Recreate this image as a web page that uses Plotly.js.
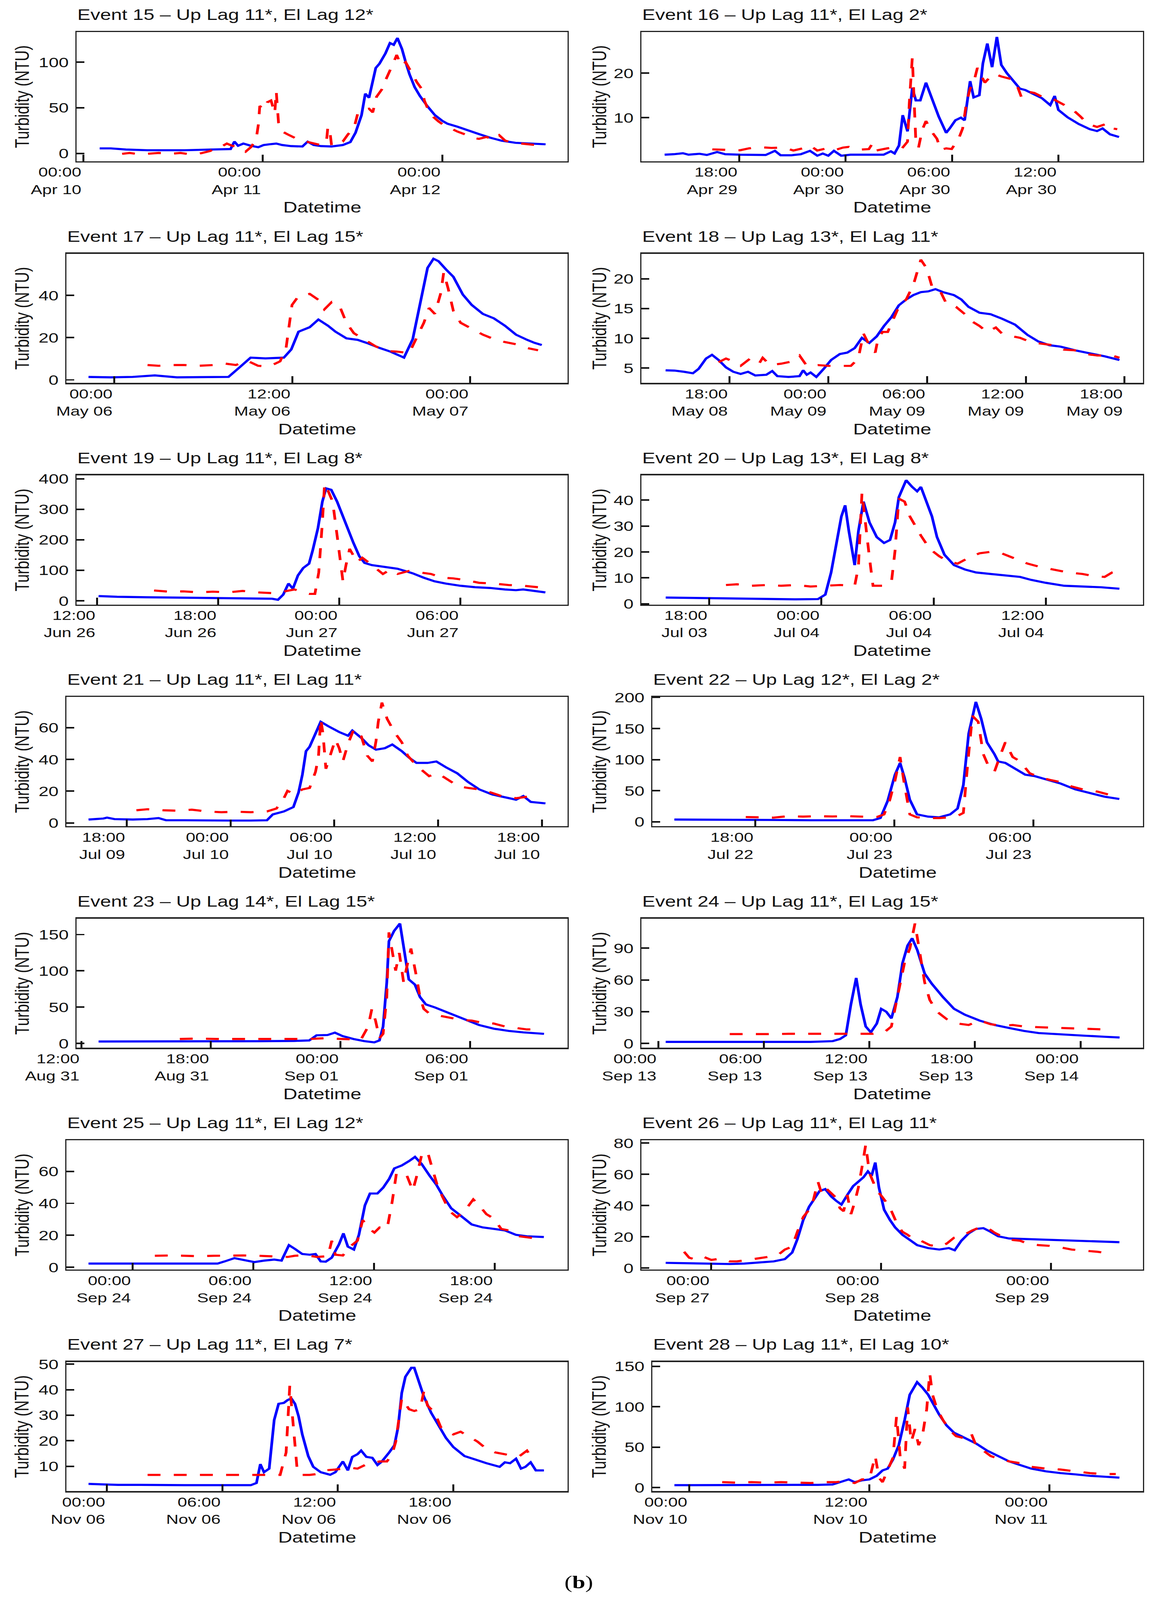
<!DOCTYPE html>
<html><head><meta charset="utf-8">
<script src="https://cdn.plot.ly/plotly-3.0.1.min.js"></script>
<style>html,body{margin:0;padding:0;background:#fff}#wrap{width:2944px;height:5291px;overflow:hidden}#wrap>div{display:block;width:2944px}</style>
</head><body><div id="wrap"></div>
<script>
// ---------------- DATA ----------------
const titles = [
 "Event 15 \u2013 Up Lag 11*, El Lag 12*","Event 16 \u2013 Up Lag 11*, El Lag 2*",
 "Event 17 \u2013 Up Lag 11*, El Lag 15*","Event 18 \u2013 Up Lag 13*, El Lag 11*",
 "Event 19 \u2013 Up Lag 11*, El Lag 8*","Event 20 \u2013 Up Lag 13*, El Lag 8*",
 "Event 21 \u2013 Up Lag 11*, El Lag 11*","Event 22 \u2013 Up Lag 12*, El Lag 2*",
 "Event 23 \u2013 Up Lag 14*, El Lag 15*","Event 24 \u2013 Up Lag 11*, El Lag 15*",
 "Event 25 \u2013 Up Lag 11*, El Lag 12*","Event 26 \u2013 Up Lag 11*, El Lag 11*",
 "Event 27 \u2013 Up Lag 11*, El Lag 7*","Event 28 \u2013 Up Lag 11*, El Lag 10*"];
// reference time of each event; series times are hours after it
const startTimes = ["2019-04-10 00:00","2019-04-29 18:00","2019-05-06 00:00","2019-05-08 18:00",
 "2019-06-26 12:00","2019-07-03 18:00","2019-07-09 18:00","2019-07-22 18:00",
 "2019-08-31 12:00","2019-09-13 00:00","2019-09-24 00:00","2019-09-27 00:00",
 "2019-11-06 00:00","2019-11-10 00:00"];
const xRangeHours = [[-0.89,64.74],[-5.52,22.77],[-3.23,30.56],[-5.36,25.12],[-1.02,23.31],[-3.62,23.19],
 [-3.50,25.49],[-4.44,16.73],[-0.22,22.51],[-0.96,27.55],[-3.30,21.63],[-9.87,60.99],[-2.11,23.94],[-2.45,30.22]];
const xTickStepHours = [24,6,12,6,6,6,6,6,6,6,6,24,6,12];
const yRanges = [[-8.5,133],[0.23,29.2],[-1.4,59.7],[2.52,24.22],[-12.1,411.1],[-0.28,49.57],[-2.04,79.26],
 [-7.1,200.7],[-6.1,171.9],[-4.2,117.9],[-1.38,79.4],[-0.94,81.7],[0.26,50.85],[-4.46,155.3]];
const yTickStep = [50,10,20,5,100,10,20,50,50,30,20,20,10,50];

const e15_blue_h=[2.2,3.7,5.7,8.6,13.5,16.5,18.5,19.7,20.2,20.7,21.4,22.4,23.4,24.1,24.9,25.8,26.6,27.8,29.3,30.0,30.8,31.8,33.2,34.7,35.7,36.4,37.2,37.7,38.2,38.6,39.1,39.6,40.4,41.0,41.5,42.0,42.6,43.1,43.6,44.3,45.0,46.0,47.0,48.0,48.7,50.0,51.4,52.9,54.4,55.9,57.8,59.8,61.8];
const e15_blue_v=[5.5,5.5,4.3,3.5,3.5,3.9,4.3,4.8,13,8.4,10.8,8.4,6.8,9.2,10,10.8,9.2,8,7.6,12.9,9.2,8,7.6,9.2,12.4,22.8,42,65.5,61,76,93.6,98.4,109.7,121,119,126.5,114.5,100,87,72.7,63,51.8,42,35.7,32.5,29.3,25.2,21.2,17.2,14,11.6,10.8,10];
const e15_red_h=[5.2,6.2,7.6,8.6,10.1,11.6,13.0,14.5,15.8,17.0,17.7,18.5,19.2,19.9,20.9,21.7,22.4,23.1,23.4,23.6,24.1,24.6,25.1,25.6,25.8,26.1,26.6,27.3,28.3,29.0,29.8,30.8,31.8,32.5,32.7,33.0,33.2,34.0,34.7,35.4,36.2,36.7,37.2,38.2,38.7,39.2,39.9,40.4,41.1,41.5,41.9,42.5,43.1,43.8,44.6,45.3,45.6,46.1,46.8,47.5,48.2,49.0,50.0,51.0,51.9,52.9,53.9,54.9,55.6,56.4,57.4,58.3,59.3,60.8,61.8];
const e15_red_v=[-0.5,0.5,-1,-0.5,0.5,-0.5,0.5,-1.3,0.3,2.7,6.8,7.6,10.8,8.4,6.8,1.9,6.8,14.8,31,52,48,56,58,44,68,34,24,21,17,16,13,11,9,12,29,22,8.5,12,13,21,28,44,47,49,45,62,70,80,92,100,108,96,100,90,78,70,58,48,40,35,31,28,24,21,17,16,18,15,20,14,12,11,10,9,10];

const e16_blue_h=[-4.21,-3.70,-3.18,-2.86,-2.24,-1.83,-1.25,-0.79,0.04,0.87,1.49,2.01,2.33,2.95,3.47,3.99,4.40,4.71,5.02,5.34,5.75,6.27,7.10,8.14,8.55,8.76,9.01,9.22,9.49,9.76,9.96,10.21,10.53,10.84,11.25,11.67,11.87,12.19,12.50,12.71,13.02,13.22,13.54,13.74,13.99,14.26,14.53,14.78,15.09,15.51,15.82,16.13,16.65,17.07,17.54,17.79,18.0,18.52,19.14,19.76,20.18,20.49,20.91,21.42];
const e16_blue_v=[1.69,1.79,2.02,1.69,1.89,1.62,2.28,1.79,1.69,1.69,1.62,2.55,1.56,1.56,1.79,2.55,1.46,1.95,1.46,2.55,1.46,1.69,1.69,1.69,2.45,1.95,3.77,10.56,6.92,16.69,13.87,13.87,17.85,14.54,10.23,6.59,7.58,9.40,10.0,9.40,18.18,14.54,15.03,22.15,26.62,21.32,28.11,21.82,20.0,18.01,16.52,16.19,15.2,14.37,12.81,14.87,11.72,10.07,8.58,7.42,6.99,7.58,6.26,5.66];
const e16_red_h=[-1.52,-0.79,0.04,0.56,0.87,1.29,1.81,2.53,3.05,3.57,3.99,4.40,5.02,5.44,5.85,6.17,6.68,7.31,7.52,7.72,8.35,8.76,9.18,9.49,9.59,9.76,9.84,9.96,10.11,10.32,10.53,10.84,11.15,11.36,11.67,11.98,12.39,12.60,12.81,13.02,13.22,13.43,13.64,13.85,14.12,14.37,14.78,15.30,15.61,15.92,16.23,16.65,17.07,17.69,18.31,18.83,19.25,19.66,20.18,20.80,21.01,21.32];
const e16_red_v=[2.88,2.78,2.68,3.11,3.28,3.34,3.21,3.28,2.62,3.11,3.77,2.62,3.21,2.78,3.28,3.44,2.78,2.95,4.27,2.62,3.11,3.28,3.11,4.60,13.21,23.48,14.87,4.60,3.28,7.25,9.24,6.92,5.26,2.78,3.11,2.95,5.43,7.58,13.21,16.52,17.85,21.16,19.50,17.85,19.0,19.83,19.24,18.68,17.85,14.54,15.86,15.53,14.70,14.21,12.88,11.72,10.23,8.58,7.91,8.74,7.58,7.42];

const e17_blue_h=[-1.74,-0.25,1.24,2.73,4.22,6.21,7.70,8.45,9.19,10.19,11.43,11.93,12.42,13.17,13.76,14.41,14.91,15.65,16.40,17.14,17.89,18.63,19.53,20.12,20.62,21.12,21.52,21.86,22.36,22.86,23.50,24.10,24.85,25.59,26.34,27.08,27.83,28.32,28.82];
const e17_blue_v=[1.40,1.19,1.40,2.11,1.19,1.19,1.40,5.96,10.53,10.18,10.53,14.39,22.81,24.91,28.56,25.61,22.81,19.65,18.95,17.19,15.09,13.33,10.53,19.30,36.84,52.98,57.33,56.14,52.28,48.77,40.35,35.44,31.23,29.12,25.61,21.40,18.95,17.54,16.49];
const e17_red_h=[2.24,2.98,3.98,4.72,5.71,6.71,7.45,8.20,8.94,9.69,10.43,11.18,11.58,11.98,12.42,13.17,13.76,14.16,14.66,15.16,15.65,16.15,16.89,17.64,18.39,19.13,19.88,20.37,20.87,21.22,21.61,22.01,22.21,22.51,22.86,23.35,24.10,24.85,25.59,26.34,27.08,27.83,28.57];
const e17_red_v=[7.02,6.67,7.02,7.02,6.67,7.02,7.72,7.02,9.12,6.67,6.32,8.77,15.09,35.44,39.65,40.70,37.89,33.33,36.84,35.44,27.02,22.11,18.95,15.79,13.68,13.33,12.63,20.0,27.02,34.04,31.23,41.05,50.88,43.16,32.63,27.02,24.21,21.40,19.30,17.89,16.84,15.09,14.04];

const e18_blue_h=[-3.89,-3.35,-2.77,-2.23,-1.88,-1.43,-1.07,-0.67,-0.22,0.22,0.67,1.12,1.56,2.23,2.59,2.90,3.58,4.25,4.47,4.69,4.92,5.27,5.72,6.17,6.70,7.15,7.60,8.04,8.49,8.94,9.38,9.83,10.28,10.73,11.17,11.62,12.07,12.51,12.96,13.63,14.08,14.52,15.19,15.86,16.54,17.34,18.10,18.77,19.44,20.11,21.00,21.90,22.79,23.69];
const e18_blue_v=[4.63,4.58,4.38,4.13,4.88,6.61,7.23,6.36,5.12,4.38,4.01,4.38,3.76,3.88,4.50,3.64,3.51,3.64,4.63,3.88,4.26,3.51,4.88,6.36,7.36,7.60,8.35,10.08,9.22,10.33,12.07,13.55,15.54,16.53,17.27,17.77,17.89,18.27,17.77,17.27,16.53,15.29,14.30,14.05,13.31,12.31,10.58,9.46,8.84,8.60,7.98,7.48,6.98,6.36];
const e18_red_h=[-0.67,-0.22,0.22,0.67,1.25,1.79,2.01,2.46,3.13,3.80,4.25,4.69,5.36,6.03,6.70,7.37,7.82,8.13,8.49,8.85,9.03,9.30,9.61,9.92,10.28,10.73,11.17,11.62,11.98,12.29,12.74,13.18,13.76,14.30,14.75,15.19,15.64,16.18,16.54,17.21,17.65,18.32,18.99,19.66,20.33,21.00,21.67,22.35,23.24,23.69];
const e18_red_v=[5.99,6.61,6.12,5.37,6.61,5.74,6.74,5.50,5.74,6.12,7.11,5.37,5.50,5.37,5.37,5.37,6.61,10.83,8.84,7.60,10.08,11.07,11.07,13.06,15.29,16.53,19.01,23.22,21.74,18.76,18.27,15.79,15.29,14.05,12.81,12.07,11.07,11.82,10.83,10.33,10.08,9.34,9.09,8.84,8.10,7.98,7.36,7.11,7.11,6.74];

const e19_blue_h=[0.07,0.99,2.45,4.28,6.11,7.57,8.67,8.96,9.22,9.48,9.70,9.95,10.21,10.50,10.68,10.94,11.16,11.34,11.60,11.89,12.15,12.40,12.70,12.99,13.25,13.61,14.16,14.89,15.26,15.62,16.17,16.72,17.27,18.00,18.73,19.47,20.20,20.75,21.11,21.66,22.21];
const e19_blue_v=[15.5,13.1,11.6,10.6,9.7,8.2,6.8,3.4,20.3,56.6,39.7,83.2,107.4,121.9,165.4,238.0,325.0,368.6,363.7,325.0,281.5,238.0,189.6,146.1,124.3,117.0,112.2,105.0,97.7,90.4,75.9,63.8,56.6,49.3,44.5,42.1,37.2,34.8,37.2,32.4,27.6];
const e19_red_h=[2.82,3.55,4.28,5.01,5.74,6.48,7.21,7.94,8.67,9.22,9.77,10.14,10.50,10.79,10.98,11.16,11.27,11.45,11.67,11.89,12.04,12.18,12.33,12.51,12.88,13.14,13.43,13.79,14.16,14.53,14.89,15.44,15.99,16.54,17.09,17.64,18.19,18.92,19.65,20.38,21.11,21.84];
const e19_red_v=[33.9,30.0,31.0,27.6,30.0,27.6,32.4,27.6,25.2,30.0,37.2,30.0,22.7,22.7,92.9,257.3,383.1,358.9,325.0,213.8,141.2,63.8,117.0,170.3,126.7,141.2,126.7,107.4,88.0,102.5,88.0,97.7,92.9,88.0,75.9,73.5,68.7,59.0,56.6,51.8,49.3,44.5];

const e20_blue_h=[-2.32,-1.26,-0.08,1.10,2.28,3.46,4.64,5.82,6.21,6.52,6.80,7.07,7.27,7.47,7.78,7.98,8.25,8.57,8.96,9.35,9.67,9.94,10.14,10.53,10.85,11.12,11.32,11.63,11.91,12.18,12.58,13.09,13.68,14.27,15.05,16.03,16.62,17.21,18.00,18.98,19.96,20.95,21.93];
const e20_blue_v=[2.39,2.28,2.11,1.94,1.82,1.71,1.71,1.82,3.53,12.08,23.48,33.73,38.01,28.03,14.93,28.03,39.43,31.45,25.75,23.48,24.62,31.45,41.14,47.69,45.13,43.42,45.13,39.43,33.73,25.75,18.92,14.93,13.22,12.08,11.51,10.94,10.37,9.23,8.09,6.95,6.67,6.38,5.81];
const e20_red_h=[0.90,1.49,2.28,3.07,3.85,4.64,5.42,6.21,7.00,7.78,7.98,8.17,8.37,8.57,8.76,9.35,9.75,9.94,10.14,10.45,10.73,11.00,11.32,11.79,12.30,12.69,13.28,13.87,14.46,15.05,15.64,16.23,17.02,17.61,18.39,19.18,19.96,20.55,21.14,21.54,21.93];
const e20_red_v=[7.24,7.52,6.95,7.24,6.95,7.24,6.67,6.95,7.24,6.95,14.36,42.85,29.17,17.78,6.95,6.95,8.66,20.63,40.57,39.43,33.73,30.31,26.32,21.20,18.35,16.64,15.50,17.78,19.49,20.06,19.49,17.78,15.50,14.36,13.22,12.08,11.51,10.66,10.37,12.08,12.65];

const e21_blue_h=[-2.22,-1.36,-1.15,-0.72,0.34,1.19,1.83,2.26,3.33,4.60,5.88,7.16,8.10,8.44,9.08,9.63,9.93,10.15,10.36,10.57,10.91,11.21,11.64,12.28,12.79,13.04,13.56,13.98,14.41,14.92,15.35,15.90,16.33,16.75,17.39,17.90,18.46,19.10,19.74,20.38,21.14,21.87,22.51,22.93,23.36,24.21];
const e21_blue_v=[2.13,2.78,3.33,2.41,2.13,2.41,3.06,1.67,1.67,1.48,1.48,1.48,1.67,5.37,7.22,10.0,19.26,30.37,45.19,47.96,56.30,63.70,60.93,57.22,54.91,58.15,53.52,48.89,46.11,47.04,49.35,45.19,41.02,37.78,37.78,38.70,35.0,31.30,25.74,21.11,17.87,16.02,14.63,16.94,13.24,12.31];
const e21_red_h=[0.55,1.19,2.05,2.90,3.75,4.60,5.46,6.31,7.16,8.10,8.65,9.08,9.29,9.72,10.15,10.57,10.91,11.08,11.21,11.34,11.51,11.77,12.06,12.28,12.49,12.79,13.13,13.56,13.90,14.20,14.41,14.54,14.75,15.05,15.47,15.90,16.24,16.54,16.97,17.48,17.90,18.25,18.76,19.18,19.74,20.38,21.02,21.66,22.51,23.15,23.79];
const e21_red_v=[7.96,8.61,7.96,7.69,8.33,7.22,6.76,7.04,6.76,7.22,9.07,15.56,20.19,17.87,21.11,22.04,32.22,41.48,65.56,56.30,34.07,42.41,52.59,47.04,38.70,49.81,59.07,54.44,42.41,38.70,51.67,63.70,75.74,65.56,57.22,50.74,42.41,38.70,34.07,29.44,31.30,29.44,25.74,22.96,22.04,21.11,19.26,16.94,15.56,16.48,15.09];

const e22_blue_h=[-3.49,-2.06,-0.79,0.79,2.38,3.97,5.08,5.40,5.71,6.03,6.25,6.44,6.67,6.98,7.46,7.94,8.41,8.73,8.98,9.21,9.52,9.75,10.0,10.32,10.48,10.79,11.21,11.65,12.06,12.54,13.17,13.81,14.44,15.08,15.71];
const e22_blue_v=[3.55,3.55,2.84,2.84,2.37,2.37,2.37,5.92,33.14,75.74,94.67,71.01,35.50,11.83,8.28,7.10,11.83,21.30,59.17,142.01,192.90,165.68,127.81,108.88,97.04,94.67,85.21,75.74,73.37,68.64,61.54,52.07,46.15,40.24,36.69];
const e22_red_h=[-0.41,0.16,0.79,1.43,2.06,2.70,3.33,3.97,4.60,5.24,5.56,5.81,6.03,6.25,6.44,6.67,6.98,7.46,7.94,8.41,8.73,8.98,9.17,9.37,9.62,9.84,10.06,10.32,10.57,10.79,11.11,11.43,11.84,12.22,12.70,13.17,13.65,14.13,14.76,15.24,15.71];
const e22_red_v=[7.57,7.10,6.63,8.99,8.28,8.99,8.52,8.99,8.28,7.57,11.83,35.50,66.27,104.14,59.17,11.83,7.10,5.92,5.92,7.10,9.47,14.20,94.67,170.41,160.95,108.88,89.94,80.47,106.51,127.81,104.14,97.04,78.11,72.19,67.46,63.91,56.80,52.07,48.52,43.79,40.24];

const e23_blue_h=[0.80,2.0,3.37,5.08,6.44,8.15,9.86,10.55,10.89,11.40,11.74,12.09,12.60,13.11,13.56,13.80,13.97,14.14,14.24,14.48,14.75,14.92,15.16,15.44,15.68,15.95,16.36,16.87,17.39,17.90,18.41,19.09,19.78,20.46,21.14,21.42];
const e23_blue_v=[2.64,2.64,3.04,3.04,3.04,3.04,3.45,4.05,11.15,11.55,14.80,10.14,6.08,3.04,1.42,4.05,23.31,84.13,140.89,155.08,165.21,134.81,88.18,81.09,63.86,53.72,49.67,43.58,37.50,31.42,25.34,20.27,17.23,15.20,13.58,13.18];
const e23_red_h=[4.56,5.42,6.27,7.13,7.98,8.84,9.69,10.55,11.23,11.91,12.43,12.94,13.28,13.45,13.62,13.80,13.97,14.14,14.24,14.38,14.55,14.72,14.92,15.06,15.26,15.50,15.68,15.85,16.09,16.36,16.70,17.04,17.56,18.07,18.58,19.09,19.61,20.12,20.63,20.97];
const e23_red_v=[6.08,6.69,6.08,6.08,5.47,6.08,5.47,6.08,7.10,6.08,5.47,5.07,23.31,47.64,31.42,7.10,13.18,63.86,153.05,130.75,100.34,124.67,84.13,104.40,130.75,94.26,63.86,47.64,41.56,39.53,37.50,35.48,32.43,31.42,28.38,27.37,23.31,21.29,19.26,19.26];

const e24_blue_h=[0.42,1.97,3.64,5.31,6.98,8.66,9.91,10.33,10.66,10.95,11.25,11.50,11.79,12.08,12.42,12.67,12.96,13.25,13.59,13.88,14.17,14.43,14.72,15.14,15.55,16.18,16.81,17.43,18.27,19.11,19.94,20.78,21.62,22.87,24.13,25.38,26.22];
const e24_blue_v=[1.39,1.39,1.39,1.39,1.39,1.39,2.09,4.17,7.65,36.86,61.89,36.86,15.99,10.43,18.78,32.68,29.90,23.64,43.81,75.80,92.49,99.44,88.32,66.06,56.33,43.81,32.68,27.12,21.56,17.39,14.60,11.82,9.74,8.34,7.37,6.26,5.56];
const e24_red_h=[4.06,4.89,5.73,6.56,7.40,8.24,9.07,9.91,10.75,11.58,12.21,12.84,13.25,13.59,14.01,14.30,14.59,14.84,15.14,15.43,15.85,16.39,17.02,17.64,18.27,18.90,19.53,20.15,20.78,21.62,22.45,23.29,24.13,24.96,25.80];
const e24_red_v=[8.76,8.76,8.34,8.76,9.04,9.04,8.76,9.04,9.04,9.04,9.04,10.43,15.99,43.81,77.19,89.71,113.35,88.32,57.72,41.03,29.90,22.95,18.78,17.39,21.56,18.08,16.69,17.39,15.99,15.30,14.60,14.33,13.91,13.21,12.93];

const e25_blue_h=[-2.20,-0.73,0.73,2.20,3.30,4.22,4.58,5.06,5.50,6.05,6.52,7.04,7.40,7.77,8.06,8.43,8.80,9.09,9.35,9.60,9.90,10.26,10.48,10.70,11.0,11.25,11.55,11.80,12.17,12.46,12.76,13.01,13.38,13.75,14.04,14.37,14.77,15.10,15.40,15.84,16.31,16.86,17.41,17.96,18.51,19.06,19.61,20.45];
const e25_blue_v=[2.31,2.31,2.31,2.31,2.03,2.31,3.69,5.72,4.62,3.23,4.15,4.80,4.15,13.85,11.54,8.31,7.85,8.31,3.69,3.51,6.0,14.31,21.23,12.92,11.08,20.31,38.77,46.15,46.15,49.85,55.39,61.85,63.69,66.46,69.05,64.62,57.23,51.69,45.23,36.92,32.31,26.77,24.92,24.0,23.08,20.31,19.38,18.92];
const e25_red_h=[1.10,1.83,2.57,3.30,4.03,4.77,5.50,6.23,6.96,7.70,8.06,8.61,9.16,9.71,9.90,10.08,10.45,10.81,11.18,11.44,11.73,12.02,12.28,12.65,12.90,13.12,13.38,13.64,13.93,14.11,14.37,14.66,14.92,15.14,15.40,15.76,16.13,16.50,16.94,17.23,17.59,17.96,18.33,18.69,19.24,19.79,20.34];
const e25_red_v=[7.20,7.38,7.20,6.92,7.20,7.38,7.38,7.20,6.92,6.46,7.20,7.57,6.46,6.92,16.62,7.85,7.38,12.92,16.62,29.54,24.46,21.69,24.92,24.0,40.62,59.08,59.08,57.23,48.0,56.31,70.15,72.46,60.92,51.69,44.31,35.08,31.38,35.08,42.46,38.77,33.23,30.46,24.0,23.08,19.38,18.46,17.08];

const e26_blue_h=[-6.44,-3.64,-0.52,2.60,4.68,6.75,8.83,10.39,11.43,12.16,12.99,13.82,14.55,15.27,16.10,16.94,17.66,18.39,19.22,20.05,20.78,21.51,22.13,22.65,23.17,23.69,24.42,25.25,25.98,27.01,28.05,29.09,30.65,32.21,33.56,34.39,35.33,36.37,37.40,38.44,39.48,40.52,42.08,45.20,48.31,51.43,54.55,57.66];
const e26_blue_v=[3.31,3.12,2.83,2.55,2.83,3.49,4.25,5.67,9.92,18.42,30.70,39.20,43.92,49.11,50.53,45.81,42.98,40.61,46.75,52.42,55.25,58.09,61.87,59.03,67.53,51.48,37.31,30.70,25.97,21.25,17.95,14.64,12.75,11.81,12.75,11.33,17.47,22.20,25.03,25.50,23.14,20.31,18.89,18.42,17.95,17.47,17.0,16.53];
const e26_red_h=[-3.84,-3.12,-2.08,-1.04,0,1.56,2.60,3.64,5.20,6.75,8.31,9.35,10.39,11.43,12.16,12.99,13.82,14.34,15.07,15.59,16.10,16.94,17.66,18.18,18.70,19.22,19.74,20.26,20.78,21.30,21.82,22.34,22.86,23.38,24.10,24.73,25.46,26.29,27.01,27.74,28.57,29.61,30.86,32.21,33.25,34.29,35.33,36.05,36.88,37.92,38.96,40.0,41.04,42.60,43.64,44.68,46.24,47.79,49.35,50.91,52.47,54.55,56.11];
const e26_red_v=[10.39,6.61,5.19,7.08,5.19,6.14,4.25,4.25,5.19,6.14,7.08,8.03,11.81,13.70,23.14,32.59,37.31,42.03,55.25,47.70,51.48,47.70,44.86,38.25,36.36,46.75,34.47,42.03,51.48,64.70,78.87,60.92,55.25,49.59,45.81,42.03,36.36,27.86,23.14,21.25,18.42,17.47,14.64,13.70,15.58,19.36,20.31,22.20,24.08,25.97,25.97,22.67,20.31,17.95,17.47,15.58,14.64,14.17,13.22,11.81,11.33,10.39,9.44];

const e27_blue_h=[-0.96,-0.19,0.57,1.72,2.87,4.02,5.17,6.32,7.47,7.77,7.97,8.16,8.43,8.69,8.92,9.19,9.38,9.58,9.77,9.96,10.15,10.46,10.72,11.11,11.60,11.87,12.26,12.52,12.75,13.02,13.21,13.48,13.79,14.06,14.29,14.67,14.94,15.13,15.32,15.51,15.82,15.97,16.20,16.47,16.85,17.24,17.62,18.0,18.58,19.15,19.72,20.41,20.68,20.95,21.26,21.52,21.75,22.02,22.29,22.71];
const e27_blue_v=[3.09,2.87,2.73,2.73,2.59,2.59,2.59,2.59,2.59,3.44,10.85,7.67,9.08,28.13,34.48,34.83,35.89,36.60,34.48,29.54,22.49,14.02,9.79,7.67,6.67,7.67,11.90,8.38,13.67,14.73,16.14,13.67,13.31,10.49,11.90,15.43,18.25,25.31,38.71,45.06,48.59,48.59,43.64,37.30,30.95,26.01,21.08,17.55,14.02,12.61,11.20,9.79,11.55,11.20,12.96,9.08,9.79,11.55,8.38,8.38];
const e27_red_h=[2.11,3.26,4.40,5.55,6.70,7.85,9.0,9.31,9.50,9.69,9.88,10.07,10.53,10.92,11.30,11.87,12.26,12.64,13.02,13.41,13.79,14.17,14.55,14.82,15.01,15.17,15.32,15.51,15.70,15.97,16.28,16.47,16.66,17.04,17.35,17.62,18.0,18.38,18.77,19.26,19.72,20.18,20.68,21.07,21.45,21.83,22.10];
const e27_red_v=[6.62,6.62,6.62,6.62,6.62,6.62,6.62,15.43,41.53,25.31,9.08,6.62,6.62,6.97,8.38,8.73,9.08,9.44,9.08,10.49,11.20,11.90,11.90,14.73,19.66,28.13,36.60,34.48,32.36,31.66,32.36,39.42,33.77,30.95,25.31,23.90,22.49,23.55,21.78,19.66,16.84,15.43,14.73,14.02,14.02,16.14,12.96];

const e28_blue_h=[-0.98,1.22,3.18,5.14,7.10,8.57,9.55,10.04,10.63,11.02,11.51,12.0,12.49,12.88,13.22,13.57,13.96,14.35,14.69,15.18,15.53,15.92,16.31,16.65,17.14,17.63,18.12,18.61,19.10,19.84,20.57,21.31,22.04,22.78,23.76,24.73,25.71,26.69,27.67,28.65];
const e28_blue_v=[2.90,2.90,2.90,2.90,2.90,3.34,3.79,6.69,10.03,6.69,8.91,10.03,14.49,21.17,23.40,34.54,52.37,83.57,114.78,130.38,123.69,114.78,101.40,90.26,76.89,67.97,63.52,59.06,54.60,45.69,39.0,32.32,27.86,23.40,20.06,17.83,16.27,14.49,13.37,12.26];
const e28_red_h=[2.20,3.18,4.16,5.14,6.12,7.10,8.08,9.06,9.80,10.29,11.02,11.51,12.0,12.39,12.64,12.88,13.22,13.57,13.81,14.06,14.35,14.55,14.79,15.04,15.28,15.53,15.82,16.02,16.21,16.51,16.90,17.39,17.78,18.27,18.76,19.10,19.59,20.08,20.57,21.31,22.04,22.78,23.76,24.73,25.71,26.69,27.67,28.41];
const e28_red_v=[6.69,6.02,6.69,6.02,6.69,6.02,5.57,6.69,6.69,7.80,5.57,10.03,10.03,39.0,12.26,6.69,21.17,36.77,88.03,36.77,23.40,99.18,56.83,72.43,52.37,63.52,96.95,141.52,114.78,96.95,83.57,70.20,63.52,61.29,67.97,52.37,45.69,39.0,35.66,32.32,30.09,25.63,23.40,22.29,20.06,17.83,16.72,16.72];

const blueH=[e15_blue_h,e16_blue_h,e17_blue_h,e18_blue_h,e19_blue_h,e20_blue_h,e21_blue_h,e22_blue_h,e23_blue_h,e24_blue_h,e25_blue_h,e26_blue_h,e27_blue_h,e28_blue_h];
const blueV=[e15_blue_v,e16_blue_v,e17_blue_v,e18_blue_v,e19_blue_v,e20_blue_v,e21_blue_v,e22_blue_v,e23_blue_v,e24_blue_v,e25_blue_v,e26_blue_v,e27_blue_v,e28_blue_v];
const redH=[e15_red_h,e16_red_h,e17_red_h,e18_red_h,e19_red_h,e20_red_h,e21_red_h,e22_red_h,e23_red_h,e24_red_h,e25_red_h,e26_red_h,e27_red_h,e28_red_h];
const redV=[e15_red_v,e16_red_v,e17_red_v,e18_red_v,e19_red_v,e20_red_v,e21_red_v,e22_red_v,e23_red_v,e24_red_v,e25_red_v,e26_red_v,e27_red_v,e28_red_v];

// ---------------- LAYOUT (one Plotly figure per row of panels) ----------------
const W=2944, H=5291, ROW=733;
const FONT="Liberation Sans, Arial, sans-serif";
const INK="#111111";
function toDate(base,h){
  const ms=Date.parse(base.replace(' ','T')+':00Z')+h*3600000;
  return new Date(ms).toISOString().slice(0,19).replace('T',' ');
}
const wrap=document.getElementById('wrap');
// if the visible window is shorter than the figure, squeeze it vertically so nothing is cut off
const vh=window.innerHeight||H;
if(vh>100 && vh<H-2){
  wrap.style.transformOrigin='0 0';
  wrap.style.transform='scaleY('+(vh/H)+')';
  document.documentElement.style.overflow='hidden';
  document.body.style.height=vh+'px';
}
for(let row=0;row<7;row++){
  const hr = row<6 ? ROW : H-6*ROW;
  const div=document.createElement('div');
  div.style.height=hr+'px';
  wrap.appendChild(div);
  const traces=[];
  const layout={width:W,height:hr,margin:{l:0,r:0,t:0,b:0},showlegend:false,
    paper_bgcolor:'#fff',plot_bgcolor:'#fff',font:{family:FONT,color:INK},annotations:[]};
  for(let col=0;col<2;col++){
    const i=row*2+col;
    const sfx=col===0?'':'2';
    const topTick=Math.floor(yRanges[i][1]/yTickStep[i])*yTickStep[i];
    const wide=topTick>=100;
    const l = col===0 ? (wide?196:170) : (wide?1670:1642);
    const r = col===0 ? 1453 : 2926;
    const t = 106, b = 533;
    layout['xaxis'+sfx]={domain:[l/W,r/W],anchor:'y'+sfx,type:'date',
      range:[toDate(startTimes[i],xRangeHours[i][0]),toDate(startTimes[i],xRangeHours[i][1])],
      tickmode:'linear',tick0:'2019-01-01 00:00:00',dtick:xTickStepHours[i]*3600000,
      tickformat:'%H:%M<br>%b %d',ticks:'inside',ticklen:22,tickwidth:5,tickcolor:INK,
      showline:true,mirror:true,linecolor:'#222',linewidth:4.5,showgrid:false,zeroline:false,
      ticklabelposition:'outside left',ticklabelstandoff:-6,tickfont:{family:FONT,size:44,color:INK},fixedrange:true};
    layout['yaxis'+sfx]={domain:[1-b/hr,1-t/hr],anchor:'x'+sfx,range:yRanges[i],
      tickmode:'linear',tick0:0,dtick:yTickStep[i],ticks:'inside',ticklen:20,tickwidth:5,tickcolor:INK,
      showline:true,mirror:true,linecolor:'#222',linewidth:3,showgrid:false,zeroline:false,
      ticklabelstandoff:8,tickfont:{family:FONT,size:46,color:INK},fixedrange:true};
    traces.push({type:'scatter',mode:'lines',xaxis:'x'+sfx,yaxis:'y'+sfx,
      x:blueH[i].map(h=>toDate(startTimes[i],h)),y:blueV[i],line:{color:'#0000ff',width:7},hoverinfo:'skip'});
    traces.push({type:'scatter',mode:'lines',xaxis:'x'+sfx,yaxis:'y'+sfx,
      x:redH[i].map(h=>toDate(startTimes[i],h)),y:redV[i],line:{color:'#ff0000',width:7,dash:'33px,34px'},hoverinfo:'skip'});
    layout.annotations.push({text:titles[i],xref:'paper',yref:'paper',x:l/W,y:1-48.5/hr,
      xanchor:'left',yanchor:'middle',showarrow:false,font:{family:FONT,size:50,color:INK}});
    layout.annotations.push({text:'Turbidity (NTU)',xref:'paper',yref:'paper',x:(col===0?57:1535)/W,y:1-((t+b)/2)/hr,
      xanchor:'center',yanchor:'middle',textangle:-90,showarrow:false,font:{family:FONT,size:50,color:INK}});
    layout.annotations.push({text:'Datetime',xref:'paper',yref:'paper',x:((l+r)/2)/W,y:1-686/hr,
      xanchor:'center',yanchor:'middle',showarrow:false,font:{family:FONT,size:50,color:INK}});
  }
  if(row===6){
    layout.annotations.push({text:'(<b>b</b>)',xref:'paper',yref:'paper',x:1481/W,y:1-(5232-6*ROW)/hr,
      xanchor:'center',yanchor:'middle',showarrow:false,font:{family:'Liberation Serif, Times New Roman, serif',size:60,color:'#000'}});
  }
  Plotly.newPlot(div,traces,layout,{staticPlot:true,displayModeBar:false});
}
</script></body></html>
